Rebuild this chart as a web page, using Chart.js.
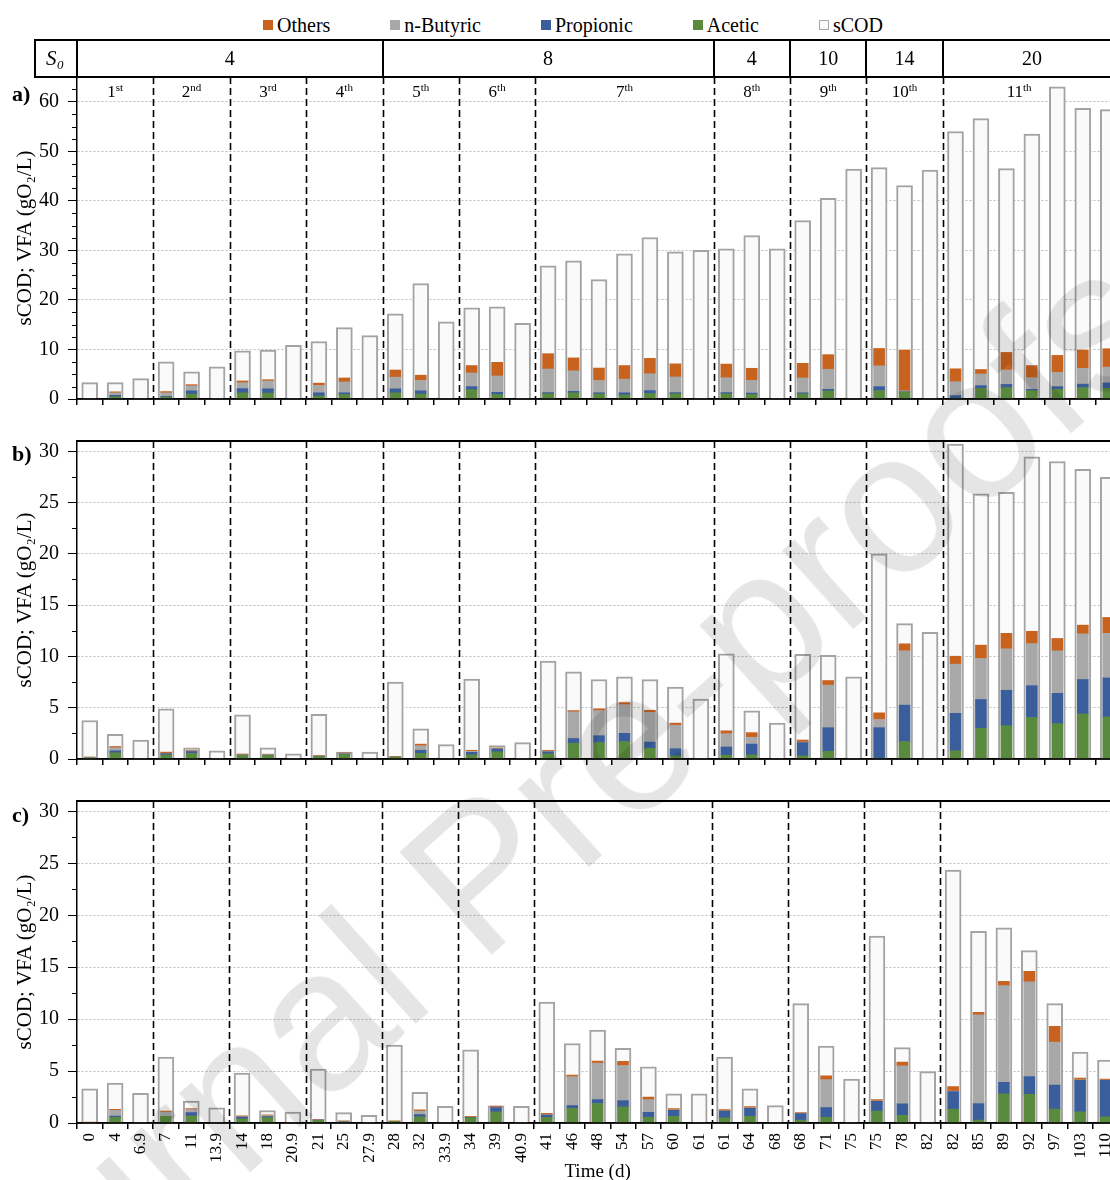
<!DOCTYPE html>
<html>
<head>
<meta charset="utf-8">
<script src="https://cdn.jsdelivr.net/npm/chart.js@4.4.1/dist/chart.umd.min.js"></script>
<style>
  html, body { margin: 0; padding: 0; background: #fff; overflow: hidden; }
  #wrap { position: relative; width: 1110px; height: 1180px; overflow: hidden; font-family: "Liberation Serif", "Times New Roman", serif; }
  canvas { position: absolute; left: 0; }
  #legend { position: absolute; top: 13px; left: 263px; display: flex; gap: 60px; font-size: 20px; line-height: 24px; white-space: nowrap; }
  #legend span { display: flex; align-items: center; }
  #legend i { display: inline-block; width: 10px; height: 10px; margin-right: 4px; box-sizing: border-box; }
  #wm { position: absolute; left: 516px; top: 840px; transform: translate(-50%, -50%) rotate(-42deg); font: 200px "Liberation Sans", Arial, sans-serif; color: rgba(0,0,0,0.1); white-space: nowrap; pointer-events: none; line-height: 1; }
</style>
</head>
<body>
<div id="wrap">
  <div id="legend"></div>
  <canvas id="chartA" width="1130" height="420" style="top:0"></canvas>
  <canvas id="chartB" width="1130" height="360" style="top:420px"></canvas>
  <canvas id="chartC" width="1130" height="405" style="top:780px"></canvas>
  <div id="wm">Journal Pre-proofs</div>
</div>
<script>
// categorias (dias)
const timeLabels = ['0','4','6.9','7','11','13.9','14','18','20.9','21','25','27.9','28','32','33.9','34','39','40.9',
  '41','46','48','54','57','60','61','61','64','68','68','71','75','75','78','82','82','85','89','92','97','103','110'];

// ciclos y S0
const cycleNums = ['1','2','3','4','5','6','7','8','9','10','11'];
const cycleSups = ['st','nd','rd','th','th','th','th','th','th','th','th'];
const cycleEnds = [2, 5, 8, 11, 14, 17, 24, 27, 30, 33, 40];
const s0Values = ['4','8','4','10','14','20'];
const s0Ends = [11, 24, 27, 30, 33, 40];

// panel a)
const aAcetic = [0,0.45,0,0.4,1.0,0,1.25,1.2,0,0.6,0.9,0,1.25,1.0,0,1.9,0.9,0,1.05,1.25,1.0,0.8,1.1,1.05,0,1.05,0.9,0,1.05,1.65,0,1.7,1.4,0,0.1,2.15,2.3,1.7,1.95,2.3,2.15];
const aPropionic = [0,0.3,0,0.15,0.65,0,0.85,0.85,0,0.65,0.35,0,0.8,0.65,0,0.6,0.45,0,0.25,0.3,0.25,0.45,0.6,0.25,0,0.25,0.3,0,0.2,0.3,0,0.8,0.05,0,0.6,0.55,0.65,0.25,0.55,0.7,1.1];
const aButyric = [0,0.5,0,0.7,1.0,0,1.2,1.6,0,1.5,2.2,0,2.35,2.1,0,2.75,3.3,0,4.75,4.15,2.5,2.75,3.4,3.15,0,3.0,2.55,0,3.0,4.05,0,4.2,0.2,0,2.8,2.35,2.9,2.35,2.9,3.2,3.2];
const aOthers = [0,0.2,0,0.25,0.25,0,0.35,0.25,0,0.45,0.8,0,1.45,1.05,0,1.5,2.75,0,3.1,2.6,2.5,2.75,3.1,2.65,0,2.75,2.45,0,2.95,2.95,0,3.5,8.25,0,2.6,0.9,3.55,2.45,3.4,3.7,3.7];
const aSCOD = [3.3,3.3,4.1,7.5,5.5,6.5,9.7,9.9,10.85,11.6,14.4,12.8,17.2,23.3,15.6,18.4,18.6,15.3,26.9,27.9,24.1,29.3,32.6,29.7,30.0,30.3,33.0,30.3,36.0,40.5,46.4,46.7,43.1,46.2,54.0,56.6,46.5,53.5,63.0,58.7,58.4];

// panel b)
const bAcetic = [0.1,0.6,0,0.4,0.55,0,0.35,0.35,0,0.25,0.45,0,0.18,0.55,0,0.4,0.7,0,0.5,1.55,1.6,1.7,1.05,0.3,0,0.37,0.4,0,0.3,0.75,0,0,1.7,0,0.8,3.0,3.25,4.05,3.45,4.4,4.1];
const bPropionic = [0,0.2,0,0.12,0.18,0,0.03,0.03,0,0.02,0.05,0,0,0.3,0,0.25,0.28,0,0.2,0.45,0.67,0.8,0.6,0.7,0,0.8,1.05,0,1.3,2.3,0,3.05,3.55,0,3.65,2.8,3.45,3.1,2.95,3.35,3.8];
const bButyric = [0.05,0.3,0,0.03,0.06,0,0.03,0.04,0,0.03,0.05,0,0.02,0.45,0,0.1,0.03,0,0.07,2.6,2.45,2.8,2.9,2.3,0,1.3,0.67,0,0.05,4.15,0,0.8,5.3,0,4.8,4.0,4.05,4.1,4.15,4.45,4.35];
const bOthers = [0.05,0.12,0,0.12,0.06,0,0.08,0.05,0,0.05,0.05,0,0.06,0.15,0,0.1,0.07,0,0.08,0.12,0.18,0.2,0.2,0.2,0,0.28,0.45,0,0.2,0.45,0,0.65,0.68,0,0.77,1.3,1.5,1.2,1.2,0.85,1.55];
const bSCOD = [3.75,2.4,1.85,4.9,1.1,0.8,4.3,1.1,0.5,4.35,0.67,0.67,7.5,2.95,1.4,7.8,1.3,1.6,9.55,8.5,7.75,8.0,7.75,7.0,5.85,10.25,4.7,3.5,10.2,10.1,8.0,20.0,13.2,12.35,30.7,25.85,26.0,29.45,29.0,28.25,27.45];

// panel c)
const cAcetic = [0,0.55,0,0.65,0.7,0,0.4,0.52,0,0.25,0.1,0,0.15,0.6,0,0.52,1.08,0,0.55,1.42,1.88,1.55,0.55,0.65,0,0.5,0.65,0,0.28,0.55,0,1.15,0.75,0,1.33,0.28,2.8,2.75,1.33,1.08,0.6];
const cPropionic = [0,0.12,0,0,0.3,0,0.18,0.1,0,0.03,0.02,0,0,0.2,0,0.03,0.4,0,0.22,0.25,0.37,0.62,0.47,0.58,0,0.65,0.77,0,0.62,0.93,0,0.93,1.1,0,1.7,1.6,1.12,1.73,2.32,3.03,3.5];
const cButyric = [0,0.55,0,0.4,0.3,0,0.03,0.1,0,0.03,0.03,0,0,0.35,0,0.03,0.05,0,0.03,2.8,3.52,3.37,1.23,0.03,0,0.03,0.03,0,0.02,2.7,0,0.05,3.65,0,0.05,8.53,9.3,9.11,4.14,0.05,0.03];
const cOthers = [0.1,0.1,0,0.1,0.1,0,0.07,0.06,0,0.05,0.05,0,0.06,0.12,0,0.07,0.1,0,0.12,0.15,0.18,0.4,0.25,0.13,0,0.1,0.12,0,0.08,0.37,0,0.12,0.37,0,0.43,0.25,0.43,1.0,1.51,0.17,0.1];
const cSCOD = [3.3,3.85,2.85,6.35,2.1,1.45,4.8,1.2,1.05,5.2,1.0,0.75,7.5,2.95,1.6,7.05,1.65,1.6,11.65,7.65,8.95,7.2,5.4,2.8,2.8,6.35,3.3,1.67,11.5,7.4,4.23,18.0,7.25,4.95,24.35,18.45,18.8,16.6,11.5,6.83,6.05];

const colors = { 'Others': '#C8621F', 'n-Butyric': '#A8A8A8', 'Propionic': '#3A5D9C', 'Acetic': '#5A8A3E', 'sCOD': '#FAFAFA' };
const legendOrder = ['Others', 'n-Butyric', 'Propionic', 'Acetic', 'sCOD'];

Chart.defaults.font.family = '"Liberation Serif", "Times New Roman", serif';
Chart.defaults.color = '#000';

// leyenda
const legend = document.getElementById('legend');
legendOrder.forEach(function(name) {
    const s = document.createElement('span');
    const box = document.createElement('i');
    box.style.background = colors[name];
    if (name === 'sCOD') box.style.border = '1px solid #A6A6A6';
    s.appendChild(box);
    s.appendChild(document.createTextNode(name));
    legend.appendChild(s);
});

const decor = {
    id: 'decor',
    afterDraw(chart, args, o) {
        const ctx = chart.ctx;
        const x = chart.scales.x;
        const y = chart.scales.y;
        const area = chart.chartArea;
        const edge = i => (x.getPixelForValue(i) + x.getPixelForValue(i + 1)) / 2;
        ctx.save();
        ctx.strokeStyle = '#000';
        ctx.fillStyle = '#000';

        // ticks menores
        ctx.lineWidth = 1;
        y.ticks.forEach(function(t) {
            if (t.value % o.major !== 0) {
                const py = Math.round(y.getPixelForValue(t.value)) + 0.5;
                ctx.beginPath();
                ctx.moveTo(area.left - 5, py);
                ctx.lineTo(area.left, py);
                ctx.stroke();
            }
        });

        // lineas de ciclo
        ctx.lineWidth = 1.6;
        ctx.setLineDash([7, 4]);
        cycleEnds.slice(0, -1).forEach(function(e) {
            const px = Math.round(edge(e)) + 0.5;
            ctx.beginPath();
            ctx.moveTo(px, area.top);
            ctx.lineTo(px, area.bottom);
            ctx.stroke();
        });
        ctx.setLineDash([]);

        // ejes
        ctx.lineWidth = 1.5;
        ctx.beginPath();
        ctx.moveTo(area.left, area.bottom);
        ctx.lineTo(area.right + 10, area.bottom);
        ctx.stroke();
        if (o.topBorder) {
            ctx.lineWidth = 2;
            ctx.beginPath();
            ctx.moveTo(area.left, area.top);
            ctx.lineTo(area.right + 10, area.top);
            ctx.stroke();
        }

        // etiqueta del panel
        ctx.font = 'bold 22px "Liberation Serif"';
        ctx.textAlign = 'left';
        ctx.textBaseline = 'alphabetic';
        ctx.fillText(o.label, 12, o.labelY);

        if (o.table) {
            const top = 40, bot = area.top, left = 35;
            ctx.lineWidth = 2;
            ctx.strokeRect(left, top, area.right + 20 - left, bot - top);
            ctx.beginPath();
            ctx.moveTo(area.left, top);
            ctx.lineTo(area.left, bot);
            s0Ends.slice(0, -1).forEach(function(e) {
                const px = Math.round(edge(e));
                ctx.moveTo(px, top);
                ctx.lineTo(px, bot);
            });
            ctx.stroke();

            ctx.textAlign = 'center';
            ctx.textBaseline = 'middle';
            ctx.font = '20px "Liberation Serif"';
            let start = 0;
            s0Ends.forEach(function(e, k) {
                const l = start === 0 ? area.left : edge(start - 1);
                const r = e === timeLabels.length - 1 ? area.right : edge(e);
                ctx.fillText(s0Values[k], (l + r) / 2, (top + bot) / 2 + 1);
                start = e + 1;
            });
            ctx.textAlign = 'left';
            ctx.textBaseline = 'alphabetic';
            ctx.font = 'italic 21px "Liberation Serif"';
            ctx.fillText('S', 46, 65);
            ctx.font = 'italic 13px "Liberation Serif"';
            ctx.fillText('0', 57, 69);

            // ciclos
            start = 0;
            cycleEnds.forEach(function(e, k) {
                const l = start === 0 ? area.left : edge(start - 1);
                const r = e === timeLabels.length - 1 ? area.right : edge(e);
                const cx = e === timeLabels.length - 1 ? edge(36) : (l + r) / 2;
                ctx.font = '17px "Liberation Serif"';
                const w1 = ctx.measureText(cycleNums[k]).width;
                ctx.font = '11px "Liberation Serif"';
                const w2 = ctx.measureText(cycleSups[k]).width;
                const x0 = cx - (w1 + w2) / 2;
                ctx.font = '17px "Liberation Serif"';
                ctx.fillText(cycleNums[k], x0, 97);
                ctx.font = '11px "Liberation Serif"';
                ctx.fillText(cycleSups[k], x0 + w1, 91);
                start = e + 1;
            });
        }
        ctx.restore();
    }
};

function yScale(max, major) {
    return {
        stacked: true,
        min: 0,
        max: max,
        afterBuildTicks: function(s) {
            const t = [];
            for (let v = 0; v <= max + 1e-9; v += 2.5) t.push({ value: v });
            s.ticks = t;
        },
        afterFit: function(s) { s.width = 77; },
        ticks: {
            autoSkip: false,
            padding: 9,
            font: { size: 20 },
            callback: v => (v % major === 0 ? v : '')
        },
        grid: {
            color: c => (c.tick && c.tick.value % major === 0 && c.tick.value > 0 ? '#BDBDBD' : 'rgba(0,0,0,0)'),
            tickColor: c => (c.tick && c.tick.value % major === 0 ? '#000' : 'rgba(0,0,0,0)'),
            tickLength: 9,
            lineWidth: 1
        },
        border: { color: '#000', width: 1.5, dash: [2, 2] },
        title: {
            display: true,
            text: 'sCOD; VFA (gO\u2082/L)',
            font: { size: 21 },
            padding: { top: 13, bottom: 0 }
        }
    };
}

function crearPanel(id, d) {
    const ctx = document.getElementById(id).getContext('2d');
    const vfa = { stack: 'vfa', grouped: false, barThickness: 11, order: 0 };
    return new Chart(ctx, {
        type: 'bar',
        data: {
            labels: timeLabels,
            datasets: [
                Object.assign({ label: 'Acetic', data: d.acetic, backgroundColor: colors['Acetic'] }, vfa),
                Object.assign({ label: 'Propionic', data: d.propionic, backgroundColor: colors['Propionic'] }, vfa),
                Object.assign({ label: 'n-Butyric', data: d.butyric, backgroundColor: colors['n-Butyric'] }, vfa),
                Object.assign({ label: 'Others', data: d.others, backgroundColor: colors['Others'] }, vfa),
                { label: 'sCOD', data: d.scod, stack: 'scod', grouped: false, backgroundColor: colors['sCOD'],
                  borderColor: '#A3A3A3', borderWidth: 2, barThickness: 16, order: 1 }
            ]
        },
        options: {
            responsive: false,
            animation: false,
            layout: { padding: { top: d.padTop, right: 9, left: 0, bottom: 0 } },
            plugins: {
                legend: { display: false },
                tooltip: { enabled: false },
                decor: { major: d.major, label: d.label, labelY: d.labelY, table: d.table, topBorder: !d.table }
            },
            scales: {
                x: {
                    offset: true,
                    afterFit: function(s) { s.height = d.xHeight; },
                    grid: { offset: true, drawOnChartArea: false, tickLength: 6, tickColor: '#000', lineWidth: 1.5 },
                    border: { color: '#000', width: 1.5 },
                    ticks: { display: d.showX, autoSkip: false, minRotation: 90, maxRotation: 90, padding: 4, font: { size: 17 } },
                    title: { display: d.showX, text: 'Time (d)', font: { size: 19 }, padding: { top: 0, bottom: 2 } }
                },
                y: yScale(d.max, d.major)
            }
        },
        plugins: [decor]
    });
}

crearPanel('chartA', { acetic: aAcetic, propionic: aPropionic, butyric: aButyric, others: aOthers, scod: aSCOD,
    max: 65, major: 10, padTop: 77, xHeight: 14, showX: false, label: 'a)', labelY: 101, table: true });
crearPanel('chartB', { acetic: bAcetic, propionic: bPropionic, butyric: bButyric, others: bOthers, scod: bSCOD,
    max: 31, major: 5, padTop: 13, xHeight: 9, showX: false, label: 'b)', labelY: 41, table: false });
crearPanel('chartC', { acetic: cAcetic, propionic: cPropionic, butyric: cButyric, others: cOthers, scod: cSCOD,
    max: 31, major: 5, padTop: 9, xHeight: 62, showX: true, label: 'c)', labelY: 42, table: false });
</script>
</body>
</html>
